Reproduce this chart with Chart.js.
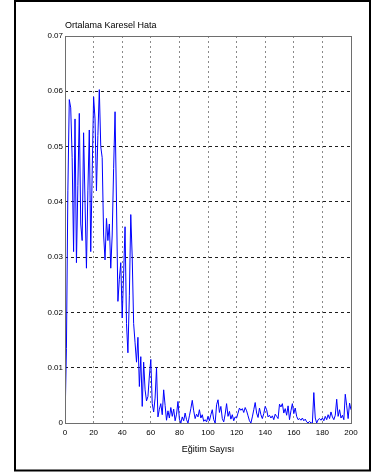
<!DOCTYPE html>
<html>
<head>
<meta charset="utf-8">
<script src="https://cdn.jsdelivr.net/npm/chart.js@4.4.0/dist/chart.umd.min.js"></script>
<style>
  html, body { margin: 0; padding: 0; background: #fff; overflow: hidden; }
  #wrap { width: 371px; height: 472px; }
</style>
</head>
<body>
<div id="wrap"><canvas id="grafik" width="371" height="472"></canvas></div>
<script>
// ortalama karesel hata, egitim 0..200
const hata = [
  0, 0.0135, 0.042, 0.0585, 0.057, 0.048, 0.031, 0.055, 0.029, 0.043,
  0.056, 0.036, 0.033, 0.0525, 0.040, 0.028, 0.042, 0.053, 0.031, 0.045,
  0.059, 0.055, 0.042, 0.052, 0.0603, 0.050, 0.048, 0.034, 0.0295, 0.037,
  0.033, 0.036, 0.028, 0.034, 0.046, 0.0563, 0.040, 0.022, 0.026, 0.029,
  0.019, 0.027, 0.0355, 0.018, 0.0127, 0.023, 0.0377, 0.030, 0.018, 0.0145,
  0.011, 0.0155, 0.0066, 0.012, 0.003, 0.011, 0.006, 0.004, 0.0048, 0.0085,
  0.0115, 0.0035, 0.002, 0.0045, 0.010, 0.0011, 0.0025, 0.0035, 0.0015, 0.006,
  0.0032, 0.0005, 0.0022, 0.0009, 0.0028, 0.0012, 0.0025, 0.0004, 0.0016, 0.0039,
  0.0007, 0, 0.0011, 0.0004, 0.0018, 0.0006, 0, 0.0013, 0.0026, 0.0041,
  0.0022, 0.0008, 0.0016, 0.0011, 0.0024, 0.0009, 0.0015, 0.0003, 0.0006, 0.0002,
  0.0012, 0.0004, 0.0015, 0.0024, 0.0006, 0, 0.0033, 0.0042, 0.0019, 0.003,
  0.0008, 0.0002, 0.0016, 0.0035, 0.0012, 0.0021, 0.0007, 0.0015, 0.0004, 0.0011,
  0.0009, 0.0018, 0.0027, 0.0023, 0.0026, 0.0019, 0.0028, 0.0022, 0.0013, 0.0004,
  0, 0.0011, 0.0024, 0.0037, 0.0018, 0.001, 0.0027, 0.0015, 0.0008, 0.0017,
  0.003, 0.0024, 0.0011, 0.0014, 0.0009, 0.0013, 0.0006, 0.0016, 0.0012, 0.0008,
  0.0034, 0.0029, 0.0035, 0.0018, 0.0026, 0.0014, 0.0031, 0.0006, 0.0022, 0.0035,
  0.0017, 0.0027, 0.0012, 0.0006, 0.0008, 0.0005, 0.0009, 0.0004, 0.0007, 0.0002,
  0, 0.0003, 0, 0, 0.0055, 0.0009, 0, 0.0006, 0.0008, 0.0005,
  0.0009, 0.0004, 0.0012, 0.0006, 0.0015, 0.0008, 0.002, 0.0011, 0.0006, 0.0014,
  0.0043, 0.0012, 0.0024, 0.0009, 0.0014, 0.0006, 0.0052, 0.0031, 0.0008, 0.0036,
  0.0024
];

const baslik = "Ortalama Karesel Hata";
const xBaslik = "Eğitim Sayısı";
const xMax = 200;
const yMax = 0.07;

const yaziTipi = "'Liberation Sans Narrow', 'Liberation Sans', Arial, sans-serif";

// beyaz zemin, dis cerceve, cizim kutusu ve ust baslik
const cerceve = {
  id: "cerceve",
  beforeDraw(chart) {
    const ctx = chart.ctx;
    ctx.save();
    ctx.fillStyle = "#fff";
    ctx.fillRect(0, 0, chart.width, chart.height);
    ctx.restore();
  },
  afterDraw(chart) {
    const ctx = chart.ctx;
    const a = chart.chartArea;
    ctx.save();
    ctx.strokeStyle = "#000";
    ctx.lineWidth = 2;
    ctx.strokeRect(15, 1, 355, 469.5);
    ctx.strokeStyle = "#6e6e6e";
    ctx.lineWidth = 1;
    ctx.strokeRect(Math.round(a.left) + 0.5, Math.round(a.top) + 0.5,
      Math.round(a.right - a.left), Math.round(a.bottom - a.top));
    ctx.fillStyle = "#000";
    ctx.font = "9px 'Liberation Sans', Arial, sans-serif";
    ctx.textBaseline = "middle";
    ctx.textAlign = "left";
    ctx.fillText(baslik, a.left, 25.5);
    ctx.restore();
  }
};

new Chart(document.getElementById("grafik"), {
  type: "line",
  data: {
    datasets: [
      {
        data: hata.map((v, i) => ({ x: i, y: v })),
        borderColor: "#0000ff",
        borderWidth: 1,
        pointRadius: 0,
        tension: 0,
        fill: false
      }
    ]
  },
  options: {
    responsive: false,
    animation: false,
    events: [],
    layout: { padding: { left: 0, right: 20, top: 36, bottom: 0 } },
    plugins: { legend: { display: false }, tooltip: { enabled: false } },
    scales: {
      x: {
        type: "linear",
        min: 0,
        max: xMax,
        afterFit: (s) => { s.height = 49; },
        ticks: {
          stepSize: 20,
          padding: 5,
          maxRotation: 0,
          color: "#000",
          font: { family: yaziTipi, size: 8 }
        },
        grid: {
          color: "#8a8a8a",
          lineWidth: 1,
          drawTicks: false
        },
        border: { display: false, dash: [2, 3] },
        title: {
          display: true,
          text: xBaslik,
          color: "#000",
          font: { family: "'Liberation Sans', Arial, sans-serif", size: 9 },
          padding: { top: 0, bottom: 17 }
        }
      },
      y: {
        min: 0,
        max: yMax,
        afterFit: (s) => { s.width = 65; },
        ticks: {
          stepSize: 0.01,
          padding: 2,
          color: "#000",
          font: { family: yaziTipi, size: 8 },
          callback: (v) => (v === 0 ? "0" : v.toFixed(2))
        },
        grid: {
          color: "#1e1e1e",
          lineWidth: 1,
          drawTicks: false
        },
        border: { display: false, dash: [3, 3] }
      }
    }
  },
  plugins: [cerceve]
});
</script>
</body>
</html>
